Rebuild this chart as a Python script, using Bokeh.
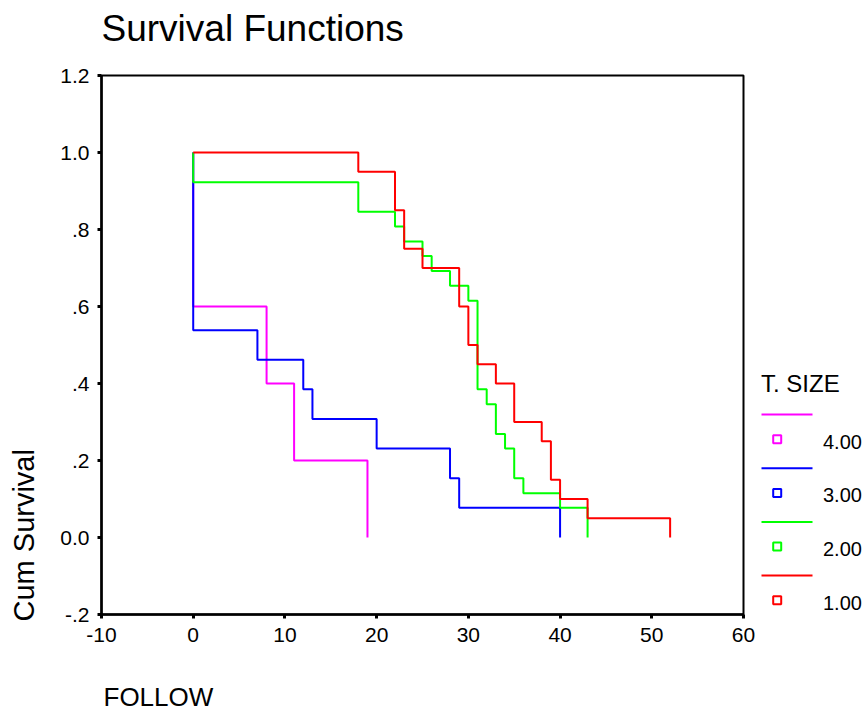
import math
from bokeh.plotting import figure
from bokeh.models import Range1d, FixedTicker, BoxAnnotation
from bokeh.core.properties import value
from bokeh.embed import file_html
from bokeh.resources import INLINE

# ---------------- data ----------------
groups = ["4.00", "3.00", "2.00", "1.00"]
colors = ["#FF00FF", "#0000FF", "#00FF00", "#FF0000"]

follow_4 = [0, 0, 8, 11, 19]
surv_4 = [1.0, 0.6, 0.4, 0.2, 0.0]

follow_3 = [0, 0, 7, 12, 13, 20, 28, 29, 40]
surv_3 = [1.0, 0.538, 0.462, 0.385, 0.308, 0.231, 0.154, 0.077, 0.0]

follow_2 = [0, 0, 18, 22, 23, 25, 26, 28, 30, 31, 32, 33, 34, 35, 36, 40, 43]
surv_2 = [1.0, 0.923, 0.846, 0.808, 0.769, 0.731, 0.692, 0.654, 0.615,
          0.385, 0.346, 0.269, 0.231, 0.154, 0.115, 0.077, 0.0]

follow_1 = [0, 18, 22, 23, 25, 29, 30, 31, 33, 35, 38, 39, 40, 43, 52]
surv_1 = [1.0, 0.95, 0.85, 0.75, 0.70, 0.60, 0.50, 0.45, 0.40, 0.30,
          0.25, 0.15, 0.10, 0.05, 0.0]

x_ticks = [-10, 0, 10, 20, 30, 40, 50, 60]
x_tick_labels = ["-10", "0", "10", "20", "30", "40", "50", "60"]
y_ticks = [-0.2, 0.0, 0.2, 0.4, 0.6, 0.8, 1.0, 1.2]
y_tick_labels = ["-.2", "0.0", ".2", ".4", ".6", ".8", "1.0", "1.2"]

series = [(follow_4, surv_4), (follow_3, surv_3), (follow_2, surv_2), (follow_1, surv_1)]

title_text = "Survival Functions"
y_title = "Cum Survival"
x_title = "FOLLOW"
legend_title = "T. SIZE"

# ---------------- layout (page pixels) ----------------
FONT = "Liberation Sans"
W, H = 865, 713
X0, X1 = x_ticks[0], x_ticks[-1]
Y0, Y1 = y_ticks[0], y_ticks[-1]
BOX_L, BOX_R, BOX_T, BOX_B = 101, 743, 75, 614   # where the axes box sits on the page


def dx(px):
    return X0 + (px - BOX_L) * (X1 - X0) / (BOX_R - BOX_L)


def dy(py):
    return Y0 + (BOX_B - py) * (Y1 - Y0) / (BOX_B - BOX_T)


p = figure(width=W, height=H, x_range=Range1d(dx(0), dx(W)), y_range=Range1d(dy(H), dy(0)),
           toolbar_location=None, output_backend="svg", title=None,
           min_border_left=0, min_border_right=0, min_border_top=0, min_border_bottom=0)
p.min_border = 0
p.background_fill_color = "white"
p.border_fill_color = "white"
p.outline_line_color = None
p.grid.visible = False

# axes placed at the box edges
p.xaxis.fixed_location = Y0
p.yaxis.fixed_location = X0
p.xaxis.bounds = (X0, X1)
p.yaxis.bounds = (Y0, Y1)
p.xaxis.ticker = FixedTicker(ticks=x_ticks)
p.xaxis.major_label_overrides = {t: s for t, s in zip(x_ticks, x_tick_labels)}
p.yaxis.ticker = FixedTicker(ticks=y_ticks)
p.yaxis.major_label_overrides = {t: s for t, s in zip(y_ticks, y_tick_labels)}
for ax in (p.xaxis[0], p.yaxis[0]):
    ax.axis_line_width = 2.5
    ax.axis_line_color = "black"
    ax.major_tick_in = 0
    ax.major_tick_out = 4
    ax.major_tick_line_width = 3
    ax.minor_tick_line_color = None
    ax.major_label_text_font = FONT
    ax.major_label_text_font_size = "21px"
    ax.major_label_text_color = "black"
p.xaxis.major_label_standoff = 9
p.yaxis.major_label_standoff = 8

# box (top and right borders)
p.add_layout(BoxAnnotation(left=X0, right=X1, bottom=Y0, top=Y1, fill_color=None,
                           fill_alpha=0, line_color="black", line_alpha=1.0,
                           line_width=2, level="underlay"))

# survival step curves
for (t, s), c in zip(series, colors):
    p.step(t, s, mode="after", line_color=c, line_width=2)

# texts (vertically centred on the cap height)
p.text(x=[dx(101)], y=[dy(28)], text=[title_text], text_font=value(FONT), text_font_size="37px",
       text_color="black", text_align="left", text_baseline="middle")
p.text(x=[dx(23.5)], y=[dy(621)], text=[y_title], text_font=value(FONT), text_font_size="29px",
       text_color="black", text_align="left", text_baseline="middle", angle=math.pi / 2)
p.text(x=[dx(103)], y=[dy(696)], text=[x_title], text_font=value(FONT), text_font_size="26px",
       text_color="black", text_align="left", text_baseline="middle")

# legend
n = len(groups)
step = 53.7
line_py = [414 + i * step for i in range(n)]
sq_py = [438.7 + i * step for i in range(n)]
lab_py = [441 + i * step for i in range(n)]

p.text(x=[dx(760.5)], y=[dy(383)], text=[legend_title], text_font=value(FONT),
       text_font_size="24px", text_color="black", text_align="left", text_baseline="middle")
p.segment(x0=[dx(761)] * n, y0=[dy(v) for v in line_py], x1=[dx(812)] * n,
          y1=[dy(v) for v in line_py], line_color=colors, line_width=2)
p.scatter(x=[dx(776.7)] * n, y=[dy(v) for v in sq_py], marker="square", size=8,
          fill_color=None, line_color=colors, line_width=2)
p.text(x=[dx(822.5)] * n, y=[dy(v) for v in lab_py], text=groups, text_font=value(FONT),
       text_font_size="20px", text_color="black", text_align="left", text_baseline="middle")

open("out.html", "w").write(file_html(p, INLINE))
